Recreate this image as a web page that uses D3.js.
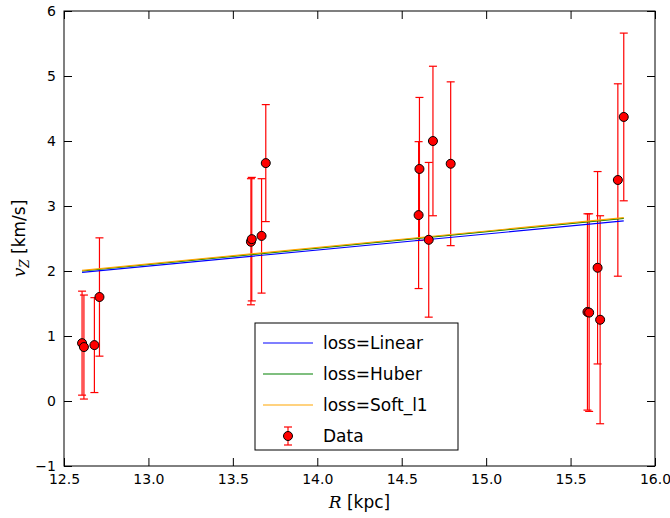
<!DOCTYPE html>
<html>
<head>
<meta charset="UTF-8">
<script src="https://cdn.jsdelivr.net/npm/d3@7"></script>
<style>body{margin:0;background:#fff}text{font-family:"DejaVu Sans",sans-serif}</style>
</head>
<body>
<div id="chart"></div>
<script>
// data points: radius (kpc), vertical velocity, error
const R = [12.607, 12.618, 12.68, 12.71, 13.607, 13.612, 13.67, 13.695, 14.60, 14.605, 14.66, 14.685, 14.79, 15.60, 15.61, 15.66, 15.675, 15.78, 15.815];
const vz = [0.89, 0.83, 0.86, 1.60, 2.45, 2.49, 2.54, 3.66, 2.86, 3.57, 2.48, 4.00, 3.65, 1.37, 1.36, 2.05, 1.25, 3.40, 4.37];
const err = [0.80, 0.80, 0.73, 0.91, 0.97, 0.95, 0.88, 0.90, 1.13, 1.10, 1.19, 1.15, 1.26, 1.51, 1.52, 1.48, 1.60, 1.48, 1.29];
// fitted lines: [start, end]
const fitNames = ["loss=Linear", "loss=Huber", "loss=Soft_l1"];
const fitColors = ["blue", "green", "orange"];
const fitX = [12.607, 15.815];
const fitY = [[1.98, 2.77], [2.00, 2.81], [2.01, 2.82]];
const xTicks = [12.5, 13.0, 13.5, 14.0, 14.5, 15.0, 15.5, 16.0];
const yTicks = [-1, 0, 1, 2, 3, 4, 5, 6];

const W = 670, H = 518, m = {l: 64, r: 15, t: 11, b: 52};
const svg = d3.select("#chart").append("svg").attr("width", W).attr("height", H);
const x = d3.scaleLinear([12.5, 16], [m.l, W - m.r]);
const y = d3.scaleLinear([-1, 6], [H - m.b, m.t]);

const g = svg.append("g");
// error bars
R.forEach((r, i) => {
  const e = g.append("g").attr("stroke", "red").attr("stroke-width", 1.2);
  e.append("line").attr("x1", x(r)).attr("x2", x(r)).attr("y1", y(vz[i] - err[i])).attr("y2", y(vz[i] + err[i]));
  [vz[i] - err[i], vz[i] + err[i]].forEach(v =>
    e.append("line").attr("x1", x(r) - 4).attr("x2", x(r) + 4).attr("y1", y(v)).attr("y2", y(v)));
});
// fits
fitY.forEach((fy, i) => {
  g.append("line").attr("x1", x(fitX[0])).attr("x2", x(fitX[1])).attr("y1", y(fy[0])).attr("y2", y(fy[1]))
    .attr("stroke", fitColors[i]).attr("stroke-width", 1.2);
});
// points
g.selectAll("circle").data(R).join("circle")
  .attr("cx", d => x(d)).attr("cy", (d, i) => y(vz[i])).attr("r", 4.5)
  .attr("fill", "red").attr("stroke", "black").attr("stroke-width", 1);

// axes frame + inward ticks on all sides
const fmtX = d3.format(".1f");
svg.append("g").attr("transform", `translate(0,${H - m.b})`).call(d3.axisBottom(x).tickValues(xTicks).tickSizeInner(-8).tickSizeOuter(0).tickPadding(8).tickFormat(fmtX));
svg.append("g").attr("transform", `translate(0,${m.t})`).call(d3.axisTop(x).tickValues(xTicks).tickSizeInner(-8).tickSizeOuter(0).tickFormat(""));
svg.append("g").attr("transform", `translate(${m.l},0)`).call(d3.axisLeft(y).tickValues(yTicks).tickSizeInner(-8).tickSizeOuter(0).tickPadding(8).tickFormat(d => d < 0 ? "\u2212" + Math.abs(d) : d));
svg.append("g").attr("transform", `translate(${W - m.r},0)`).call(d3.axisRight(y).tickValues(yTicks).tickSizeInner(-8).tickSizeOuter(0).tickFormat(""));
svg.selectAll(".tick text").attr("font-size", 14).attr("font-family", "DejaVu Sans").attr("fill", "black");
svg.selectAll(".domain").remove();
svg.append("rect").attr("x", m.l).attr("y", m.t).attr("width", W - m.l - m.r).attr("height", H - m.t - m.b)
  .attr("fill", "none").attr("stroke", "black").attr("stroke-width", 1);

// axis labels
svg.append("text").attr("x", (m.l + W - m.r) / 2).attr("y", H - 10).attr("text-anchor", "middle").attr("font-size", 17)
  .html('<tspan font-family="DejaVu Serif" font-style="italic">R</tspan> [kpc]');
svg.append("text").attr("transform", `translate(25,${(m.t + H - m.b) / 2}) rotate(-90)`).attr("text-anchor", "middle").attr("font-size", 17)
  .html('<tspan font-family="DejaVu Serif" font-style="italic">v</tspan><tspan font-family="DejaVu Serif" font-style="italic" font-size="12" dy="4">Z</tspan><tspan dy="-4"> [km/s]</tspan>');

// legend
const lg = svg.append("g").attr("transform", "translate(255,323)");
lg.append("rect").attr("width", 203).attr("height", 127).attr("fill", "white").attr("stroke", "black");
fitNames.forEach((n, i) => {
  const yy = 20 + i * 31;
  lg.append("line").attr("x1", 8).attr("x2", 58).attr("y1", yy).attr("y2", yy).attr("stroke", fitColors[i]).attr("stroke-width", 1.2);
  lg.append("text").attr("x", 68).attr("y", yy + 6).attr("font-size", 17).text(n);
});
const dy = 20 + 3 * 31;
lg.append("line").attr("x1", 33).attr("x2", 33).attr("y1", dy - 9).attr("y2", dy + 9).attr("stroke", "red").attr("stroke-width", 1.2);
[dy - 9, dy + 9].forEach(v => lg.append("line").attr("x1", 29).attr("x2", 37).attr("y1", v).attr("y2", v).attr("stroke", "red").attr("stroke-width", 1.2));
lg.append("circle").attr("cx", 33).attr("cy", dy).attr("r", 4.5).attr("fill", "red").attr("stroke", "black");
lg.append("text").attr("x", 68).attr("y", dy + 6).attr("font-size", 17).text("Data");
</script>
</body>
</html>
